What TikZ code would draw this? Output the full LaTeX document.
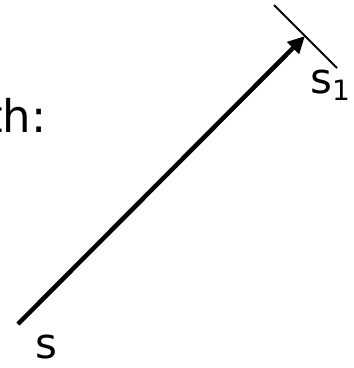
\documentclass[tikz,border=0pt]{standalone}
\usepackage{fontspec}
\setmainfont{DejaVu Sans}
\usetikzlibrary{arrows.meta}
\begin{document}
\begin{tikzpicture}[x=1pt,y=-1pt,
  lbl/.style={inner sep=0pt,anchor=base west,font=\fontsize{42}{50}\selectfont},
  bigtxt/.style={inner sep=0pt,anchor=base west,font=\fontsize{45}{54}\selectfont},
  movearrow/.style={line width=4.5pt,-{Triangle[length=17pt,width=16pt]}},
  tangent/.style={line width=1.8pt}]
\useasboundingbox (0,0) rectangle (354,368);
\begin{scope}
\clip (0,0) rectangle (354,368);
\node[bigtxt] (path) at (-15,132) {th:};
\end{scope}
\coordinate (a) at (18,324);
\coordinate (b) at (305,36);
\coordinate (t1) at (274,5);
\coordinate (t2) at (337,68);
\draw[tangent] (t1) -- (t2);
\draw[movearrow] (a) -- (b);
\node[lbl] (s1) at (310,93) {s{\fontsize{28}{30}\selectfont\raisebox{-7pt}{1}}};
\node[lbl] (s) at (35,358) {s};
\end{tikzpicture}
\end{document}
